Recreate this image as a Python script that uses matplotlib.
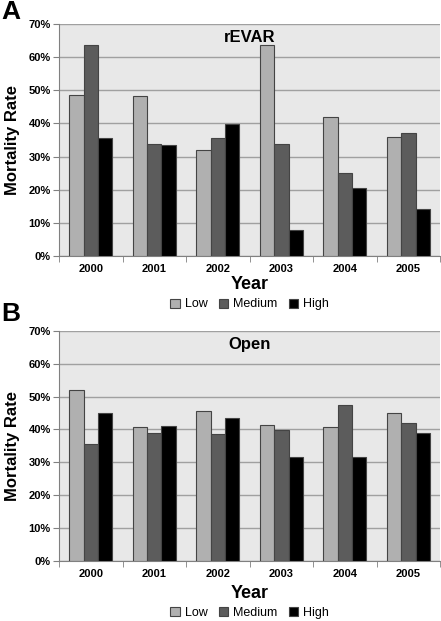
import numpy as np
import matplotlib
matplotlib.use("Agg")
import matplotlib.pyplot as plt
from matplotlib.ticker import FuncFormatter, MultipleLocator

plt.rcParams['font.family'] = ['Liberation Sans', 'DejaVu Sans']

years = ['2000', '2001', '2002', '2003', '2004', '2005']
groups = ['Low', 'Medium', 'High']

revar_low = [48.7, 48.2, 32.0, 63.6, 41.9, 35.8]
revar_medium = [63.6, 33.9, 35.7, 33.9, 25.0, 37.1]
revar_high = [35.7, 33.4, 39.8, 7.8, 20.4, 14.1]

open_low = [52.0, 40.7, 45.7, 41.5, 40.7, 45.1]
open_medium = [35.7, 38.9, 38.5, 39.7, 47.4, 42.0]
open_high = [45.1, 41.1, 43.4, 31.7, 31.7, 38.9]

colors = ['#b0b0b0', '#5c5c5c', '#000000']


def DrawPanel(ax, series, title, xlabelY, legendY):
    x = np.arange(len(years))
    w = 0.225
    for i, vals in enumerate(series):
        ax.bar(x + (i - 1) * w, vals, width=w, color=colors[i],
               edgecolor='#444444', linewidth=0.8, label=groups[i], zorder=3)
    ax.set_facecolor('#e8e8e8')
    ax.set_xlim(-0.5, len(years) - 0.5)
    ax.set_ylim(0, 70)
    ax.yaxis.set_major_locator(MultipleLocator(10))
    ax.yaxis.set_major_formatter(FuncFormatter(lambda v, p: '%d%%' % v))
    ax.grid(axis='y', color='#a0a0a0', linewidth=1.0, zorder=0)
    ax.set_xticks(x)
    ax.set_xticklabels(years, fontweight='bold', fontsize=8)
    ax.set_xticks(np.arange(-0.5, len(years)), minor=True)
    ax.tick_params(axis='x', which='major', length=0, pad=6)
    ax.tick_params(axis='x', which='minor', length=4, color='#808080')
    ax.tick_params(axis='y', length=4, color='#808080', labelsize=8, pad=2)
    for lab in ax.get_yticklabels():
        lab.set_fontweight('bold')
    for s in ['top', 'right']:
        ax.spines[s].set_visible(False)
    ax.spines['left'].set_color('#808080')
    ax.spines['bottom'].set_color('#808080')
    ax.set_ylabel('Mortality Rate', fontweight='bold', fontsize=12, labelpad=6)
    ax.set_xlabel('Year', fontweight='bold', fontsize=13)
    ax.xaxis.set_label_coords(0.5, xlabelY)
    ax.xaxis.label.set_va('center')
    ax.text(0.5, 0.975, title, transform=ax.transAxes, ha='center', va='top',
            fontweight='bold', fontsize=12)
    ax.legend(loc='center', bbox_to_anchor=(0.5, legendY), ncol=3, frameon=False,
              fontsize=9, handlelength=0.75, handleheight=0.75, handletextpad=0.4,
              columnspacing=0.9, borderaxespad=0, borderpad=0)


fig = plt.figure(figsize=(4.41, 6.21), dpi=100)
axA = fig.add_axes([0.134, 0.588, 0.864, 0.373])
axB = fig.add_axes([0.134, 0.097, 0.864, 0.37])

DrawPanel(axA, [revar_low, revar_medium, revar_high], 'rEVAR', -0.122, -0.21)
DrawPanel(axB, [open_low, open_medium, open_high], 'Open', -0.143, -0.228)

fig.text(0.003, 1.0, 'A', fontweight='bold', fontsize=19, va='top', ha='left')
fig.text(0.003, 0.514, 'B', fontweight='bold', fontsize=19, va='top', ha='left')

fig.savefig('out.png', dpi=100)
